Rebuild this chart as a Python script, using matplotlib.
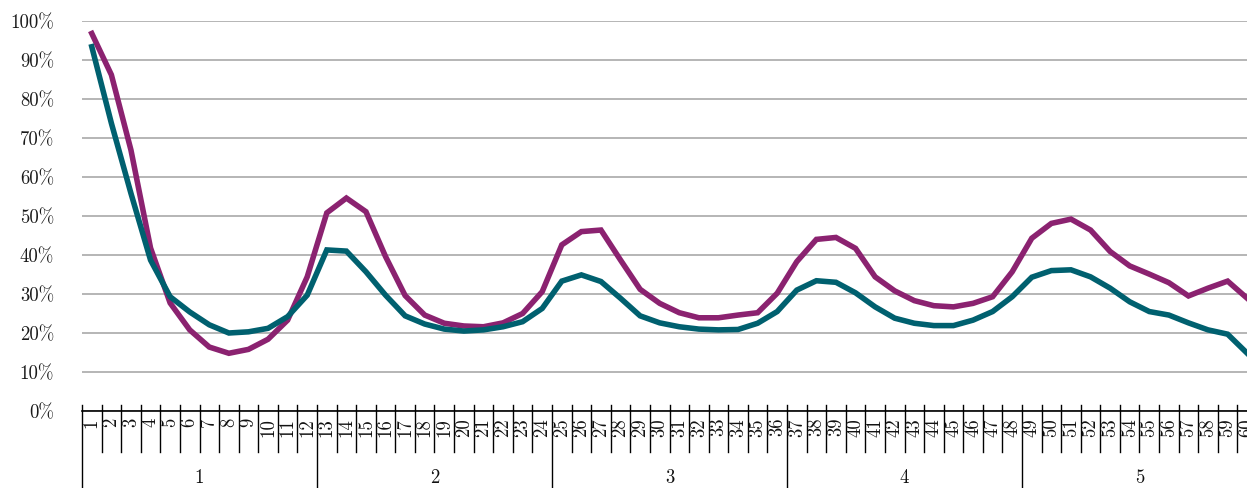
import matplotlib.pyplot as plt
import numpy as np

plt.rcParams['font.family'] = 'serif'
plt.rcParams['font.serif'] = ['cmr10', 'DejaVu Serif']
plt.rcParams['axes.formatter.use_mathtext'] = True

categories = list(range(1, 61))
groups = ['1', '2', '3', '4', '5']
per_group = 12

purple = [96.8, 86.2, 66.9, 41.8, 27.7, 20.8, 16.4, 14.8, 15.8, 18.4, 23.3, 34.4,
          50.8, 54.6, 51.1, 39.6, 29.6, 24.6, 22.5, 21.8, 21.6, 22.6, 25.0, 30.6,
          42.6, 46.0, 46.4, 38.7, 31.2, 27.6, 25.2, 23.9, 23.9, 24.6, 25.2, 30.2,
          38.3, 44.0, 44.5, 41.7, 34.4, 30.8, 28.3, 27.0, 26.7, 27.6, 29.3, 35.7,
          44.3, 48.1, 49.2, 46.4, 40.9, 37.2, 35.1, 32.9, 29.5, 31.5, 33.3, 28.9]
teal = [93.4, 73.8, 55.8, 38.7, 29.3, 25.4, 22.1, 20.0, 20.3, 21.2, 24.2, 29.7,
        41.3, 41.0, 35.7, 29.7, 24.4, 22.3, 21.0, 20.5, 20.8, 21.6, 22.9, 26.3,
        33.3, 34.9, 33.2, 28.9, 24.4, 22.6, 21.6, 21.0, 20.8, 20.9, 22.5, 25.5,
        31.0, 33.4, 33.0, 30.3, 26.7, 23.8, 22.5, 21.9, 21.9, 23.3, 25.5, 29.3,
        34.3, 36.0, 36.2, 34.4, 31.5, 28.0, 25.5, 24.6, 22.6, 20.8, 19.7, 14.8]

W, H = 1247, 488
fig = plt.figure(figsize=(W / 100, H / 100), dpi=100)
left, right, bottom, top = 82, 1257, 411, 21
ax = fig.add_axes([left / W, 1 - bottom / H, (right - left) / W, (bottom - top) / H])

ax.plot(categories, purple, color='#8B2270', lw=4.0, solid_joinstyle='miter', zorder=3)
ax.plot(categories, teal, color='#00606F', lw=4.0, solid_joinstyle='miter', zorder=4)

ax.set_xlim(0.5, 60.5)
ax.set_ylim(0, 100)
ax.set_yticks(np.arange(0, 101, 10))
ax.set_yticklabels([f'{v}%' for v in range(0, 101, 10)], fontsize=13.5, color='#1a1a1a')
ax.tick_params(axis='y', length=0, pad=20)
ax.yaxis.grid(True, color='#b0b0b0', lw=1.3)
ax.set_axisbelow(True)
for s in ['left', 'right', 'top']:
    ax.spines[s].set_visible(False)
ax.spines['bottom'].set_color('black')
ax.spines['bottom'].set_linewidth(1.2)
ax.set_xticks([])

# category tick labels and separators
ah = bottom - top
tr = ax.get_xaxis_transform()
for c in categories:
    ax.text(c, -7 / ah, str(c), transform=tr, rotation=90, ha='center', va='top',
            fontsize=13.5, color='#111111', clip_on=False)
for i in range(len(categories) + 1):
    x = 0.5 + i
    low = -77 / ah if i % per_group == 0 else -41 / ah
    ax.plot([x, x], [6 / ah, low], transform=tr, color='black', lw=1.0, clip_on=False)
for g, name in enumerate(groups):
    xc = 0.5 + g * per_group + per_group / 2
    ax.text(xc, -67 / ah, name, transform=tr, ha='center', va='center',
            fontsize=13.5, color='#111111', clip_on=False)

fig.savefig('out.png', dpi=100)
